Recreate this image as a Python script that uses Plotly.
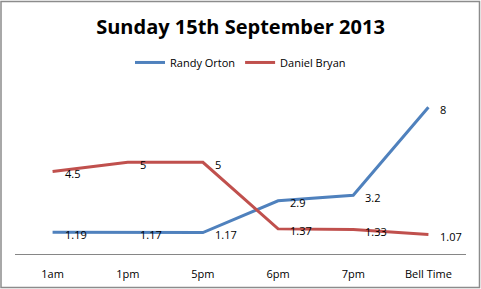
import plotly.graph_objects as go

categories = ["1am", "1pm", "5pm", "6pm", "7pm", "Bell Time"]
randy_orton = [1.19, 1.17, 1.17, 2.9, 3.2, 8]
daniel_bryan = [4.5, 5, 5, 1.37, 1.33, 1.07]
randy_labels = ["1.19", "1.17", "1.17", "2.9", "3.2", "8"]
daniel_labels = ["4.5", "5", "5", "1.37", "1.33", "1.07"]

W, H = 481, 289
ml, mr, mt, mb = 15, 15, 88.6, 35
pw, ph = W - ml - mr, H - mt - mb
FONT = "Open Sans"

fig = go.Figure()
fig.add_trace(go.Scatter(x=categories, y=randy_orton, mode="lines", name="Randy Orton",
                         line=dict(color="#4F81BD", width=3)))
fig.add_trace(go.Scatter(x=categories, y=daniel_bryan, mode="lines", name="Daniel Bryan",
                         line=dict(color="#C0504D", width=3)))

for vals, labs in ((randy_orton, randy_labels), (daniel_bryan, daniel_labels)):
    for c, v, t in zip(categories, vals, labs):
        fig.add_annotation(x=c, y=v, text=t, showarrow=False, xanchor="left", yanchor="middle",
                           xshift=10, yshift=-2, font=dict(family=FONT, size=11, color="black"))

def px2paper_x(p):
    return (p - ml) / pw

def px2paper_y(p):
    return (H - mb - p) / ph

fig.add_shape(type="rect", xref="paper", yref="paper",
              x0=px2paper_x(1), x1=px2paper_x(479.5), y0=px2paper_y(287.5), y1=px2paper_y(1),
              line=dict(color="#8C8C8C", width=1.5), fillcolor="rgba(0,0,0,0)", layer="below")

fig.update_layout(
    width=W, height=H,
    margin=dict(l=ml, r=mr, t=mt, b=mb, autoexpand=False),
    paper_bgcolor="white", plot_bgcolor="white",
    font=dict(family=FONT, size=11, color="black"),
    title=dict(text="<b>Sunday 15th September 2013</b>", x=0.5, xanchor="center",
               y=1 - 27 / H, yanchor="middle", yref="container",
               font=dict(family=FONT, size=20, color="black")),
    legend=dict(orientation="h", x=0.5, xanchor="center", y=px2paper_y(62), yanchor="middle",
                font=dict(family=FONT, size=11), itemwidth=30, bgcolor="rgba(0,0,0,0)"),
    showlegend=True,
    xaxis=dict(type="category", range=[-0.5, 5.5], showgrid=False, zeroline=False,
               showline=True, linecolor="#868686", linewidth=1, automargin=False,
               ticks="outside", ticklen=10, tickcolor="rgba(0,0,0,0)",
               tickfont=dict(family=FONT, size=11), fixedrange=True),
    yaxis=dict(range=[0, 9], visible=False, showgrid=False, zeroline=False, fixedrange=True),
)

fig.write_html("out.html")
